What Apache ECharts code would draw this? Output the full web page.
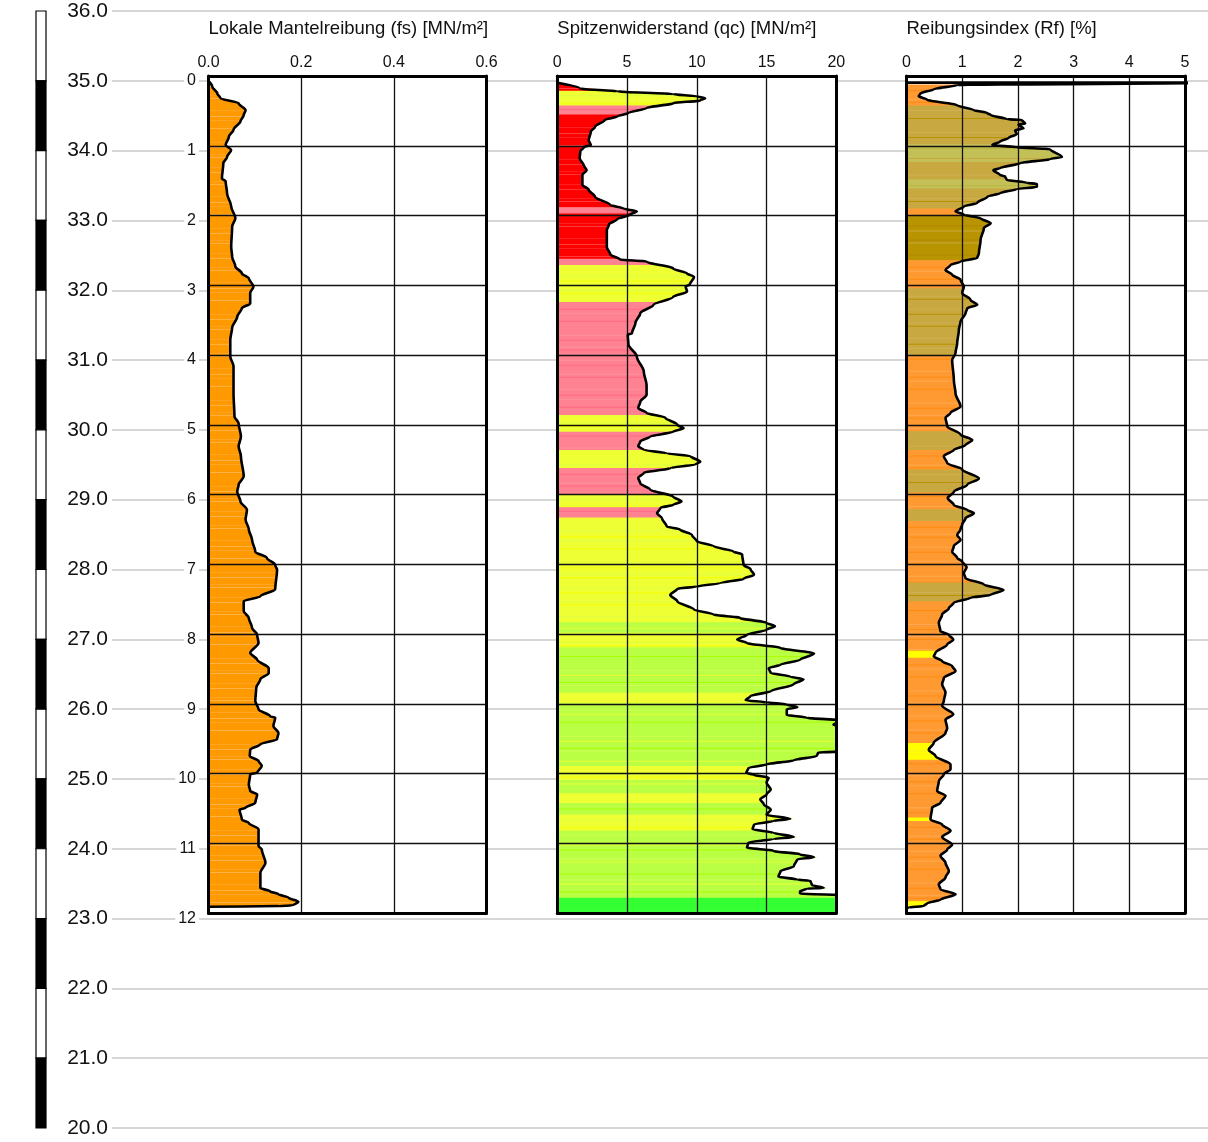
<!DOCTYPE html>
<html><head><meta charset="utf-8">
<script src="https://cdn.jsdelivr.net/npm/echarts@6/dist/echarts.min.js"></script>
<style>html,body{margin:0;padding:0;background:#fff}#c{width:1208px;height:1142px}</style>
</head><body><div id="c"></div>
<script>
// ---------------- DATA ----------------
const elevMin = 20, elevMax = 36, elevSurface = 35;
const scaleEdges = [36,35,34,33,32,31,30,29,28,27,26,25,24,23,22,21,20];
const depthLabels = [0,1,2,3,4,5,6,7,8,9,10,11,12];
const titles = ['Lokale Mantelreibung (fs) [MN/m²]', 'Spitzenwiderstand (qc) [MN/m²]', 'Reibungsindex (Rf) [%]'];

// [depth m, fs MN/m²]
const fsCurve = [[0.07,0.000],[0.15,0.008],[0.25,0.019],[0.32,0.026],[0.39,0.065],[0.49,0.080],[0.56,0.076],[0.65,0.069],[0.77,0.054],[0.87,0.044],[0.99,0.037],[1.06,0.049],[1.16,0.040],[1.25,0.032],[1.47,0.029],[1.51,0.037],[1.68,0.040],[1.87,0.049],[2.04,0.058],[2.16,0.051],[2.45,0.049],[2.59,0.051],[2.73,0.058],[2.83,0.072],[2.90,0.087],[3.02,0.097],[3.11,0.090],[3.26,0.090],[3.33,0.072],[3.45,0.062],[3.61,0.051],[3.78,0.047],[4.02,0.047],[4.16,0.054],[4.55,0.054],[4.88,0.056],[4.98,0.065],[5.17,0.070],[5.31,0.065],[5.45,0.070],[5.74,0.076],[5.86,0.065],[5.96,0.062],[6.10,0.069],[6.22,0.083],[6.36,0.080],[6.50,0.087],[6.65,0.094],[6.82,0.101],[6.91,0.126],[7.01,0.144],[7.08,0.148],[7.36,0.144],[7.46,0.112],[7.53,0.076],[7.67,0.076],[7.77,0.087],[7.91,0.094],[8.01,0.105],[8.13,0.108],[8.27,0.090],[8.37,0.105],[8.49,0.130],[8.56,0.130],[8.65,0.112],[8.77,0.103],[8.96,0.101],[9.08,0.108],[9.18,0.133],[9.20,0.144],[9.32,0.140],[9.42,0.151],[9.51,0.148],[9.58,0.112],[9.66,0.090],[9.75,0.089],[9.82,0.108],[9.89,0.115],[9.99,0.105],[10.01,0.090],[10.16,0.087],[10.25,0.090],[10.30,0.105],[10.42,0.101],[10.49,0.080],[10.52,0.067],[10.66,0.072],[10.71,0.087],[10.80,0.108],[11.04,0.108],[11.09,0.115],[11.28,0.123],[11.42,0.112],[11.64,0.112],[11.69,0.133],[11.73,0.151],[11.78,0.173],[11.84,0.194],[11.89,0.183],[11.90,0.151],[11.91,0.000]];

// [depth m, qc MN/m²]
const qcCurve = [[0.10,0.1],[0.18,1.65],[0.22,4.3],[0.26,8.3],[0.29,10.0],[0.32,10.6],[0.35,10.25],[0.39,8.3],[0.46,6.4],[0.53,5.1],[0.58,4.3],[0.63,3.4],[0.73,2.7],[0.80,2.4],[0.92,2.25],[0.99,2.4],[1.02,1.9],[1.08,1.65],[1.18,1.6],[1.28,1.9],[1.35,2.1],[1.42,1.8],[1.56,1.8],[1.63,2.25],[1.73,2.7],[1.85,3.8],[1.90,4.75],[1.94,5.7],[1.99,5.2],[2.05,4.3],[2.13,3.7],[2.21,3.55],[2.45,3.55],[2.56,3.8],[2.63,4.5],[2.66,6.4],[2.76,8.3],[2.83,9.3],[2.88,9.8],[2.99,9.5],[3.02,9.2],[3.09,9.3],[3.17,8.3],[3.28,6.9],[3.40,5.95],[3.54,5.6],[3.69,5.35],[3.71,5.05],[3.85,5.1],[4.02,5.7],[4.24,6.2],[4.43,6.4],[4.57,6.4],[4.67,5.95],[4.76,5.8],[4.83,6.4],[4.90,7.75],[5.00,8.6],[5.05,9.05],[5.10,8.3],[5.17,6.65],[5.24,5.95],[5.31,5.8],[5.36,6.2],[5.41,7.85],[5.45,9.55],[5.53,10.25],[5.57,9.9],[5.62,8.1],[5.69,6.2],[5.76,5.8],[5.84,5.95],[5.93,6.65],[6.03,8.3],[6.10,8.9],[6.15,8.3],[6.19,7.4],[6.27,7.15],[6.34,7.5],[6.46,7.85],[6.50,8.8],[6.58,9.65],[6.67,10.0],[6.74,11.2],[6.82,12.65],[6.86,13.25],[7.01,13.35],[7.07,13.85],[7.15,14.1],[7.21,13.35],[7.27,11.7],[7.32,10.0],[7.35,8.6],[7.44,8.1],[7.53,8.6],[7.65,9.8],[7.72,11.2],[7.77,13.1],[7.84,15.0],[7.89,15.6],[7.94,15.0],[8.01,13.6],[8.08,12.9],[8.13,13.6],[8.20,16.0],[8.28,18.4],[8.37,17.4],[8.44,16.0],[8.49,15.15],[8.56,15.3],[8.61,16.7],[8.65,17.65],[8.72,16.95],[8.82,15.3],[8.89,13.85],[8.95,13.5],[8.98,15.0],[9.01,16.45],[9.05,17.2],[9.08,16.45],[9.16,16.45],[9.20,17.9],[9.24,20.5],[9.30,19.8],[9.36,21.0],[9.50,22.0],[9.68,21.0],[9.70,18.7],[9.75,18.6],[9.81,16.95],[9.87,15.0],[9.92,13.7],[9.99,13.55],[10.02,14.1],[10.06,15.15],[10.13,15.0],[10.23,15.3],[10.30,15.0],[10.37,14.55],[10.44,14.8],[10.52,15.3],[10.59,15.0],[10.65,16.7],[10.68,15.5],[10.73,14.1],[10.80,14.0],[10.85,15.5],[10.91,16.95],[10.94,15.5],[10.99,13.7],[11.06,13.6],[11.11,15.5],[11.16,17.4],[11.20,18.4],[11.23,17.2],[11.33,16.95],[11.40,16.0],[11.48,15.85],[11.52,17.2],[11.54,18.15],[11.60,18.25],[11.64,19.1],[11.65,17.9],[11.69,17.4],[11.72,17.4],[11.75,21.0],[12.00,21.0]];

// [depth m, Rf %]
const rfCurve = [[0.095,0],[0.095,6.0],[0.13,0.91],[0.19,0.49],[0.25,0.25],[0.29,0.22],[0.34,0.37],[0.42,0.91],[0.49,1.21],[0.53,1.45],[0.56,1.51],[0.62,1.80],[0.63,2.07],[0.68,2.13],[0.70,2.01],[0.75,2.10],[0.78,1.95],[0.83,1.98],[0.89,1.83],[0.94,1.68],[0.99,1.54],[1.02,1.98],[1.05,2.58],[1.16,2.79],[1.19,2.58],[1.25,2.04],[1.32,1.68],[1.35,1.56],[1.42,1.68],[1.44,1.77],[1.49,1.80],[1.53,2.16],[1.55,2.34],[1.59,2.34],[1.62,1.98],[1.68,1.68],[1.73,1.45],[1.82,1.27],[1.87,1.03],[1.94,0.88],[1.99,1.03],[2.04,1.33],[2.11,1.51],[2.18,1.39],[2.35,1.33],[2.54,1.30],[2.61,1.27],[2.66,0.97],[2.71,0.79],[2.78,0.70],[2.85,0.82],[2.92,0.97],[3.02,1.03],[3.11,1.00],[3.21,1.15],[3.28,1.27],[3.33,1.09],[3.40,1.06],[3.52,0.97],[3.64,0.94],[3.83,0.91],[3.97,0.88],[4.07,0.82],[4.36,0.85],[4.55,0.88],[4.74,0.97],[4.83,0.79],[4.90,0.70],[5.02,0.73],[5.14,0.97],[5.22,1.18],[5.29,1.06],[5.36,0.85],[5.45,0.67],[5.55,0.73],[5.64,1.00],[5.77,1.30],[5.86,1.09],[5.96,0.85],[6.05,0.74],[6.15,0.85],[6.22,1.09],[6.27,1.21],[6.34,1.06],[6.43,1.00],[6.50,0.97],[6.58,0.91],[6.65,0.97],[6.74,0.85],[6.82,0.82],[6.91,0.91],[6.96,1.00],[7.04,1.08],[7.13,1.03],[7.20,1.06],[7.29,1.39],[7.37,1.74],[7.44,1.51],[7.48,1.15],[7.55,0.85],[7.63,0.76],[7.72,0.64],[7.84,0.58],[7.96,0.61],[8.01,0.76],[8.08,0.84],[8.15,0.73],[8.27,0.52],[8.32,0.49],[8.39,0.64],[8.46,0.82],[8.53,0.88],[8.63,0.67],[8.72,0.64],[8.84,0.70],[8.96,0.67],[9.03,0.64],[9.15,0.84],[9.23,0.70],[9.35,0.73],[9.42,0.70],[9.56,0.49],[9.66,0.40],[9.75,0.52],[9.87,0.79],[9.94,0.79],[10.01,0.67],[10.11,0.58],[10.25,0.55],[10.32,0.70],[10.42,0.61],[10.49,0.46],[10.66,0.43],[10.73,0.64],[10.82,0.79],[10.91,0.64],[11.02,0.82],[11.09,0.73],[11.18,0.61],[11.28,0.70],[11.40,0.76],[11.49,0.70],[11.59,0.58],[11.66,0.61],[11.73,0.88],[11.81,0.61],[11.86,0.37],[11.90,0.31],[11.92,0.04],[11.93,0.00]];

// soil layers [top m, bottom m, class]
const fsLayers = [[0.07,11.91,'F']];
const qcLayers = [[0.10,0.22,'R'],[0.22,0.43,'Y'],[0.43,0.56,'P'],[0.56,1.89,'R'],[1.89,1.98,'P'],[1.98,2.63,'R'],[2.63,2.72,'P'],[2.72,3.25,'Y'],[3.25,4.87,'P'],[4.87,5.11,'Y'],[5.11,5.37,'P'],[5.37,5.63,'Y'],[5.63,6.00,'P'],[6.00,6.19,'Y'],[6.19,6.34,'P'],[6.34,7.84,'Y'],[7.84,7.99,'YG'],[7.99,8.20,'Y'],[8.20,8.85,'YG'],[8.85,9.00,'Y'],[9.00,9.90,'YG'],[9.90,10.10,'Y'],[10.10,10.29,'YG'],[10.29,10.43,'Y'],[10.43,10.60,'YG'],[10.60,10.83,'Y'],[10.83,11.79,'YG'],[11.79,12.00,'G']];
const rfLayers = [[0.13,0.43,'O'],[0.43,0.99,'K'],[0.99,1.24,'L'],[1.24,1.49,'K'],[1.49,1.62,'L'],[1.62,1.91,'K'],[1.91,2.00,'O'],[2.00,2.65,'D'],[2.65,3.05,'O'],[3.05,4.01,'K'],[4.01,5.10,'O'],[5.10,5.37,'K'],[5.37,5.65,'O'],[5.65,5.98,'K'],[5.98,6.22,'O'],[6.22,6.39,'K'],[6.39,7.27,'O'],[7.27,7.54,'K'],[7.54,8.25,'O'],[8.25,8.35,'YL'],[8.35,9.57,'O'],[9.57,9.81,'YL'],[9.81,10.64,'O'],[10.64,10.69,'YL'],[10.69,11.84,'O'],[11.84,11.93,'YL']];

// ---------------- STYLE ----------------
const layerStyle = {
  F: {base:'#FF9900', stripes:['#FFB347','#FFA424']},
  R: {base:'#FF0000', stripes:['#FF3B3B','#FF2020']},
  P: {base:'#FF8292', stripes:['#FF6A80','#FF90A0']},
  Y: {base:'#EEFF33', stripes:['#F4FF00','#DDFF44']},
  YG:{base:'#BBFF44', stripes:['#A8FF00','#CCFF55','#E8FF33']},
  G: {base:'#33FF33', stripes:['#3CFF3C']},
  O: {base:'#FF9A33', stripes:['#FF8A10','#FFA850']},
  K: {base:'#C8A840', stripes:['#B89000','#D0B050']},
  D: {base:'#B89400', stripes:['#C8A840','#B08800']},
  L: {base:'#C4C058', stripes:['#B8B840','#C8A840']},
  YL:{base:'#FFFF00', stripes:['#FFF020']}
};
const stripeGaps = [5,9,3,12,6,4,8,14,5,7,3,10];
const FONT = '"Liberation Sans", Arial, Helvetica, sans-serif';

function valAt(curve, d) {
  if (d <= curve[0][0]) return curve[0][1];
  for (let i = 1; i < curve.length; i++) {
    const a = curve[i-1], b = curve[i];
    if (d <= b[0]) {
      if (b[0] === a[0]) return b[1];
      return a[1] + (b[1]-a[1]) * (d-a[0]) / (b[0]-a[0]);
    }
  }
  return curve[curve.length-1][1];
}

function fillSeries(curve, layers, xMax, xIdx, yIdx) {
  return {
    type: 'custom', xAxisIndex: xIdx, yAxisIndex: yIdx, z: 3, silent: true, clip: true,
    data: layers.map(l => [l[0], l[1]]),
    encode: {y: [0, 1]},
    renderItem: function (params, api) {
      const layer = layers[params.dataIndex];
      const top = layer[0], bot = layer[1];
      const st = layerStyle[layer[2]];
      const P = (v, d) => api.coord([Math.max(0, Math.min(v, xMax)), d]);
      const pts = [P(0, top), P(valAt(curve, top), top)];
      curve.forEach(p => { if (p[0] > top && p[0] < bot) pts.push(P(p[1], p[0])); });
      pts.push(P(valAt(curve, bot), bot));
      pts.push(P(0, bot));
      const children = [{type:'polygon', shape:{points: pts}, style:{fill: st.base, stroke: st.base, lineWidth: 1.2}}];
      const y0 = pts[0][1], y1 = pts[pts.length-1][1], x0 = pts[0][0];
      let k = params.dataIndex * 5;
      let y = y0;
      while (true) {
        y += stripeGaps[k % stripeGaps.length];
        if (y >= y1 - 1) break;
        const d = top + (y - y0) / (y1 - y0) * (bot - top);
        const xe = P(valAt(curve, d), d)[0];
        if (xe - x0 > 1) children.push({type:'rect', shape:{x:x0, y:y, width:xe-x0, height:1}, style:{fill: st.stripes[k % st.stripes.length]}});
        k++;
      }
      return {type:'group', children: children};
    }
  };
}

function lineSeries(curve, xIdx, yIdx) {
  return {type:'line', xAxisIndex:xIdx, yAxisIndex:yIdx, z:6, silent:true, clip:true,
    showSymbol:false, symbol:'none', animation:false, smooth:0.3, smoothMonotone:'y',
    lineStyle:{color:'#000', width:2.6, join:'round'},
    data: curve.map(p => [p[1], p[0]])};
}

// ---------------- LAYOUT ----------------
const panels = [
  {left:208.5, width:278, max:0.6, interval:0.2, fmt: v => v.toFixed(1)},
  {left:557.3, width:279, max:20, interval:5, fmt: v => String(v)},
  {left:906.5, width:278.5, max:5, interval:1, fmt: v => String(v)}
];
const PTOP = 76, PH = 837;

const grid = [
  {left:112, right:0, top:11, height:1117, z:0},
  {left:36, width:10, top:11, height:1117, z:0}
];
const xAxis = [
  {gridIndex:0, type:'value', show:false, min:0, max:1},
  {gridIndex:1, type:'value', show:false, min:0, max:1}
];
const yAxis = [
  {gridIndex:0, type:'value', min:elevMin, max:elevMax, interval:1, z:0,
   axisLine:{show:false}, axisTick:{show:false},
   axisLabel:{formatter: v => v.toFixed(1), fontSize:21, color:'#111', margin:4, padding:[5,0,0,0], fontFamily:FONT},
   splitLine:{show:true, lineStyle:{color:'#c8c8c8', width:1.5}}},
  {gridIndex:0, type:'value', min:elevSurface-elevMax, max:elevSurface-elevMin, inverse:true, position:'left', offset:-87, z:1,
   axisLine:{show:false, onZero:false}, axisTick:{show:false}, splitLine:{show:false},
   axisLabel:{customValues: depthLabels, fontSize:16, color:'#111', margin:0, backgroundColor:'#fff', padding:[0,3,0,3], fontFamily:FONT}},
  {gridIndex:1, type:'value', min:elevMin, max:elevMax, show:false}
];
const series = [];
const title = [];

series.push({type:'custom', xAxisIndex:1, yAxisIndex:2, z:2, silent:true,
  data: scaleEdges.slice(0, -1).map((t, i) => [t, scaleEdges[i+1]]),
  encode:{y:[0,1]},
  renderItem: function (params, api) {
    const a = api.coord([0, api.value(0)]), b = api.coord([1, api.value(1)]);
    return {type:'rect', shape:{x:a[0], y:a[1], width:b[0]-a[0], height:b[1]-a[1]},
      style:{fill: params.dataIndex % 2 ? '#000' : '#fff', stroke:'#000', lineWidth:1.2}};
  }});

const curves = [fsCurve, qcCurve, rfCurve];
const layerSets = [fsLayers, qcLayers, rfLayers];
const border = {show:true, onZero:false, lineStyle:{color:'#000', width:3}};
const inner = {show:true, lineStyle:{color:'#111', width:1.3}};
panels.forEach((p, i) => {
  const gi = grid.length;
  grid.push({left:p.left, width:p.width, top:PTOP, height:PH, z:2, show:true, backgroundColor:'#fff', borderWidth:0});
  const xi = xAxis.length;
  xAxis.push({gridIndex:gi, type:'value', position:'top', min:0, max:p.max, interval:p.interval, z:5,
    axisLine:border, axisTick:{show:false},
    axisLabel:{formatter:p.fmt, fontSize:16, color:'#111', margin:5, fontFamily:FONT},
    splitLine:inner});
  xAxis.push({gridIndex:gi, type:'value', position:'bottom', min:0, max:p.max, z:5,
    axisLine:border, axisTick:{show:false}, axisLabel:{show:false}, splitLine:{show:false}});
  const yi = yAxis.length;
  yAxis.push({gridIndex:gi, type:'value', min:0, max:12, interval:1, inverse:true, position:'left', z:5,
    axisLine:border, axisTick:{show:false}, axisLabel:{show:false}, splitLine:inner});
  yAxis.push({gridIndex:gi, type:'value', min:0, max:12, inverse:true, position:'right', z:5,
    axisLine:border, axisTick:{show:false}, axisLabel:{show:false}, splitLine:{show:false}});
  series.push(fillSeries(curves[i], layerSets[i], p.max, xi, yi));
  series.push(lineSeries(curves[i], xi, yi));
  title.push({text: titles[i], left: p.left, top: 19, padding: 0,
    textStyle:{fontSize:18.5, fontWeight:'normal', color:'#111', fontFamily:FONT}});
});

const chart = echarts.init(document.getElementById('c'), null, {renderer:'canvas'});
chart.setOption({animation:false, backgroundColor:'#fff', title, grid, xAxis, yAxis, series});
</script>
</body></html>
